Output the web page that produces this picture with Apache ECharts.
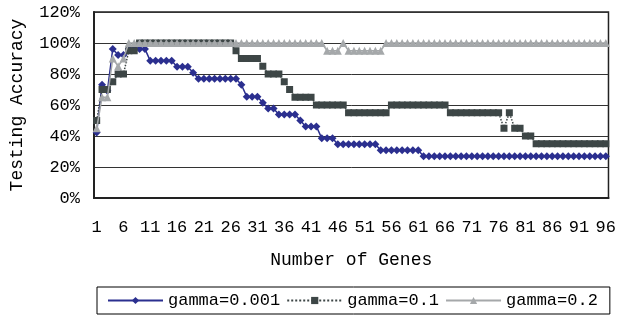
<!DOCTYPE html>
<html>
<head>
<meta charset="utf-8">
<script src="https://cdn.jsdelivr.net/npm/echarts@6/dist/echarts.min.js"></script>
<style>html,body{margin:0;padding:0;background:#fff;}#c{width:619px;height:323px;}</style>
</head>
<body>
<div id="c"></div>
<script>
const categories = ["1","2","3","4","5","6","7","8","9","10","11","12","13","14","15","16","17","18","19","20",
"21","22","23","24","25","26","27","28","29","30","31","32","33","34","35","36","37","38","39","40",
"41","42","43","44","45","46","47","48","49","50","51","52","53","54","55","56","57","58","59","60",
"61","62","63","64","65","66","67","68","69","70","71","72","73","74","75","76","77","78","79","80",
"81","82","83","84","85","86","87","88","89","90","91","92","93","94","95","96"];

const seriesNames = ["gamma=0.001", "gamma=0.1", "gamma=0.2"];

const gamma0001 = [42.3,73.1,69.2,96.2,92.3,92.3,96.2,96.2,96.2,96.2,
88.5,88.5,88.5,88.5,88.5,84.6,84.6,84.6,80.8,76.9,
76.9,76.9,76.9,76.9,76.9,76.9,76.9,73.1,65.4,65.4,
65.4,61.5,57.7,57.7,53.8,53.8,53.8,53.8,50.0,46.2,
46.2,46.2,38.5,38.5,38.5,34.6,34.6,34.6,34.6,34.6,
34.6,34.6,34.6,30.8,30.8,30.8,30.8,30.8,30.8,30.8,
30.8,26.9,26.9,26.9,26.9,26.9,26.9,26.9,26.9,26.9,
26.9,26.9,26.9,26.9,26.9,26.9,26.9,26.9,26.9,26.9,
26.9,26.9,26.9,26.9,26.9,26.9,26.9,26.9,26.9,26.9,
26.9,26.9,26.9,26.9,26.9,26.9];

const gamma01 = [50,70,70,75,80,80,95,95,100,100,
100,100,100,100,100,100,100,100,100,100,
100,100,100,100,100,100,95,90,90,90,
90,85,80,80,80,75,70,65,65,65,
65,60,60,60,60,60,60,55,55,55,
55,55,55,55,55,60,60,60,60,60,
60,60,60,60,60,60,55,55,55,55,
55,55,55,55,55,55,45,55,45,45,
40,40,35,35,35,35,35,35,35,35,
35,35,35,35,35,35];

const gamma02 = [45,65,65,90,85,90,100,100,100,100,
100,100,100,100,100,100,100,100,100,100,
100,100,100,100,100,100,100,100,100,100,
100,100,100,100,100,100,100,100,100,100,
100,100,100,95,95,95,100,95,95,95,
95,95,95,95,100,100,100,100,100,100,
100,100,100,100,100,100,100,100,100,100,
100,100,100,100,100,100,100,100,100,100,
100,100,100,100,100,100,100,100,100,100,
100,100,100,100,100,100];

const FONT = "'Liberation Mono', monospace";
const chart = echarts.init(document.getElementById('c'), null, {renderer: 'canvas'});
chart.setOption({
  animation: false,
  backgroundColor: '#ffffff',
  textStyle: {fontFamily: FONT, color: '#000'},
  grid: {left: 94, right: 10, top: 12, bottom: 125, show: true, borderColor: '#222', borderWidth: 1.5},
  legend: {
    left: 97, top: 287,
    padding: [5, 12, 5, 10],
    borderColor: '#000', borderWidth: 1,
    itemWidth: 55, itemHeight: 9, itemGap: 6,
    textStyle: {fontFamily: FONT, fontSize: 17, color: '#000'},
    data: seriesNames
  },
  xAxis: {
    type: 'category', data: categories, boundaryGap: true,
    axisLine: {lineStyle: {color: '#222', width: 2}},
    axisTick: {inside: true, length: 5, interval: 0, lineStyle: {color: '#333', width: 1}},
    axisLabel: {interval: 4, margin: 21, fontSize: 17, fontFamily: FONT, color: '#000'},
    name: 'Number of Genes', nameLocation: 'middle', nameGap: 53,
    nameTextStyle: {fontSize: 18, fontFamily: FONT, color: '#000'}
  },
  yAxis: {
    type: 'value', min: 0, max: 120, interval: 20,
    axisLine: {show: true, lineStyle: {color: '#222', width: 2}},
    axisTick: {show: false},
    splitLine: {lineStyle: {color: '#333', width: 1}},
    axisLabel: {formatter: '{value}%', margin: 14, fontSize: 17, fontFamily: FONT, color: '#000'},
    name: 'Testing Accuracy', nameLocation: 'middle', nameGap: 68,
    nameTextStyle: {fontSize: 18, fontFamily: FONT, color: '#000'}
  },
  series: [
    {name: seriesNames[0], type: 'line', data: gamma0001, symbol: 'diamond', symbolSize: 8, showAllSymbol: true,
     itemStyle: {color: '#2B2F8F'}, lineStyle: {color: '#2B2F8F', width: 1.5}, z: 2},
    {name: seriesNames[1], type: 'line', data: gamma01, symbol: 'rect', symbolSize: 7, showAllSymbol: true,
     itemStyle: {color: '#3D4646'}, lineStyle: {color: '#3D4646', width: 1.5, type: 'dotted'}, z: 3},
    {name: seriesNames[2], type: 'line', data: gamma02, symbol: 'triangle', symbolSize: 8, showAllSymbol: true,
     itemStyle: {color: '#A5A8AA'}, lineStyle: {color: '#A5A8AA', width: 1.5}, z: 4}
  ]
});
</script>
</body>
</html>
